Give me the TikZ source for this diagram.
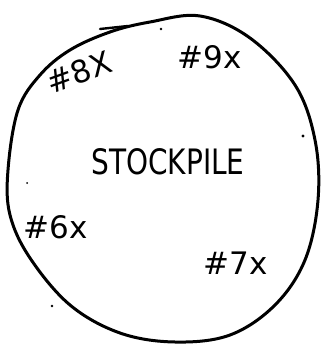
\documentclass[tikz,border=0pt]{standalone}
\usepackage{fontspec}
\setmainfont{DejaVu Sans}
\begin{document}
\begin{tikzpicture}[x=1pt,y=-1pt,
  outline/.style={line width=3pt,line cap=round,line join=round},
  hand/.style={inner sep=0pt,font=\fontsize{31}{31}\selectfont},
  titletext/.style={inner sep=0pt,font=\fontsize{35}{35}\selectfont,xscale=0.8},
  speck/.style={fill=black}]
\useasboundingbox (0,0) rectangle (325,347);
\draw[outline] plot[smooth cycle,tension=0.6] coordinates {
 (40,75) (18,110) (8,170) (10,215) (30,258) (70,305) (120,333) (175,342)
 (230,335) (275,305) (305,260) (318,200) (315,140) (295,85) (250,38)
 (200,16) (150,22) (110,32) (70,50)};
\draw[line width=2.4pt,line cap=round] (100,29) -- (128,26);
\node[titletext] (title) at (168,162) {STOCKPILE};
\node[hand,rotate=20] (l8) at (79,72) {\#8X};
\node[hand] (l9) at (210,57) {\#9x};
\node[hand] (l6) at (56,227) {\#6x};
\node[hand] (l7) at (236,263) {\#7x};
\fill[speck] (161,29) circle (1.3);
\fill[speck] (303,136) circle (1.6);
\fill[speck] (27,183) circle (1);
\fill[speck] (52,306) circle (1.3);
\end{tikzpicture}
\end{document}
